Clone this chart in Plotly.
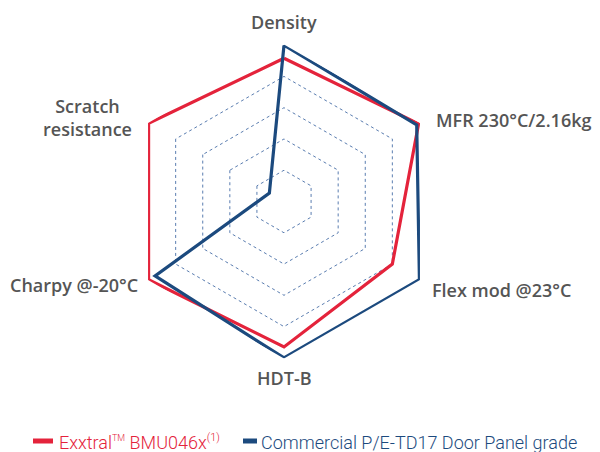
import plotly.graph_objects as go

categories = ["Density", "MFR 230°C/2.16kg", "Flex mod @23°C", "HDT-B", "Charpy @-20°C", "Scratch resistance"]
exxtral_values = [4.58, 4.97, 4.0, 4.65, 5.0, 5.0]
commercial_values = [5.0, 4.9, 5.0, 5.0, 4.76, 0.54]
series_names = [
    "Exxtral<sup><span style='font-size:9px'>TM</span></sup> BMU046x<sup><span style='font-size:11px'>(1)</span></sup>",
    "Commercial P/E-TD17 Door Panel grade",
]
grid_ticks = [1, 2, 3, 4, 5]

RED = "#e4233b"
BLUE = "#1c4a7e"
LABEL = "#555555"
OFF = 8  # page body margin
W, H = 600 - OFF, 452 - OFF

fig = go.Figure()
for vals, color in [(exxtral_values, RED), (commercial_values, BLUE)]:
    fig.add_trace(go.Scatterpolar(
        r=vals + vals[:1], theta=categories + categories[:1],
        mode="lines", line=dict(color=color, width=3.2),
        showlegend=False, hoverinfo="skip"))

cx, cy, R = 284 - OFF, 201.5 - OFF, 157
fig.update_layout(
    width=W, height=H, margin=dict(l=0, r=0, t=0, b=0),
    paper_bgcolor="white", plot_bgcolor="white",
    font=dict(family="Open Sans", color=LABEL),
    polar=dict(
        domain=dict(x=[(cx - R) / W, (cx + R) / W], y=[(H - cy - R) / H, (H - cy + R) / H]),
        gridshape="linear", bgcolor="white",
        radialaxis=dict(range=[0, 5.02], tickvals=grid_ticks, showticklabels=False, ticks="",
                        showline=False, showgrid=True, gridcolor="#5a7db0", gridwidth=1, griddash="dot"),
        angularaxis=dict(rotation=90, direction="clockwise", showgrid=False, showline=False,
                         showticklabels=False, ticks=""),
    ),
)

def px(x, y):
    return (x - OFF) / W, 1 - (y - OFF) / H

label_pos = [
    (284, 22, "center"),
    (434, 120, "left"),
    (430, 290, "left"),
    (284, 378, "center"),
    (140, 285, "right"),
    (87, 117, "center"),
]
for cat, (x, y, al) in zip(categories, label_pos):
    text = "Scratch<br>resistance" if cat == "Scratch resistance" else cat
    ax, ay = px(x, y)
    fig.add_annotation(x=ax, y=ay, xref="paper", yref="paper", text=text, showarrow=False,
                       xanchor=al, yanchor="middle", align="center",
                       font=dict(size=18, color=LABEL, family="Open Sans", weight=600))

# legend
legend_items = [(33, 53, 57, RED, series_names[0]), (243, 257, 259, BLUE, series_names[1])]
for x0, x1, tx, color, name in legend_items:
    a0, ly = px(x0, 441)
    a1, _ = px(x1, 441)
    fig.add_shape(type="line", xref="paper", yref="paper", x0=a0, x1=a1, y0=ly, y1=ly,
                  line=dict(color=color, width=5))
    t, ty = px(tx, 455)
    fig.add_annotation(x=t, y=ty, xref="paper", yref="paper", text=name, showarrow=False,
                       xanchor="left", yanchor="bottom",
                       font=dict(size=18, color=color, family="Roboto", weight=300))

fig.write_html("out.html")
